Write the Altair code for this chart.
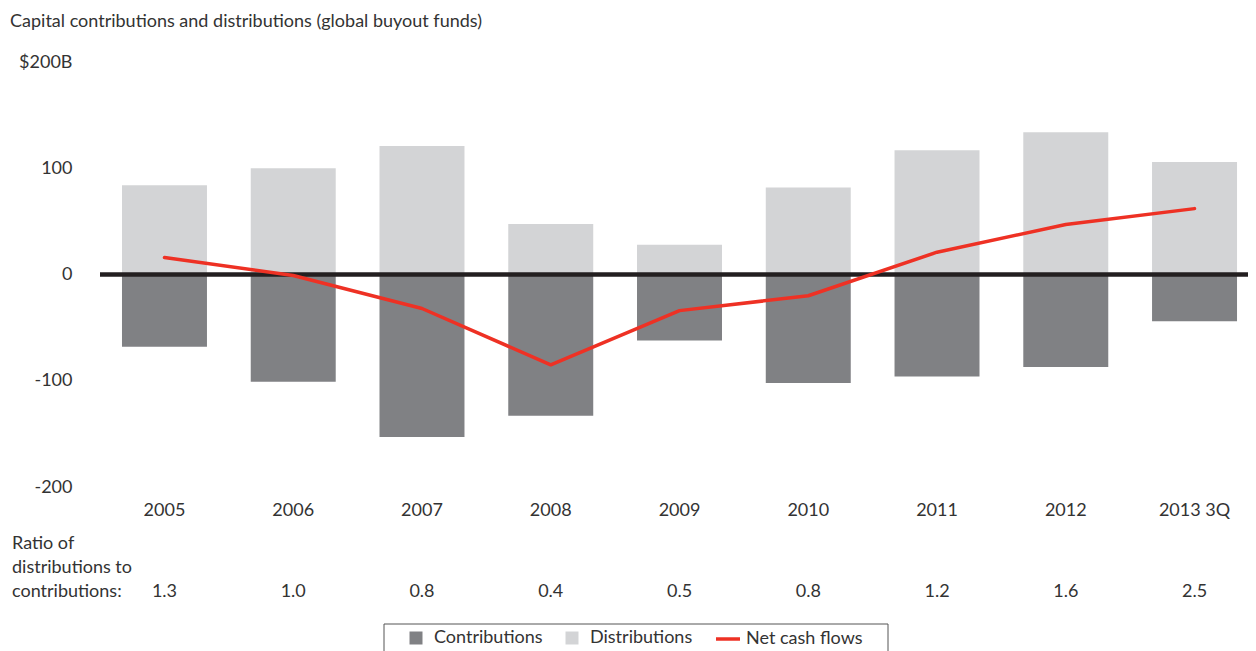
import altair as alt
import pandas as pd

years = ["2005", "2006", "2007", "2008", "2009", "2010", "2011", "2012", "2013 3Q"]
contributions = [-68, -101, -153, -133, -62, -102, -96, -87, -44]
distributions = [84, 100, 121, 47.5, 28, 82, 117, 134, 106]
net_cash = [16, -1, -32, -85, -34, -20, 21, 47, 62]
ratios = ["1.3", "1.0", "0.8", "0.4", "0.5", "0.8", "1.2", "1.6", "2.5"]
ratio_label = ["Ratio of", "distributions to", "contributions:"]
title_text = "Capital contributions and distributions (global buyout funds)"

FONT = "Lato"
FS = 18
FW = 400
TXT = "#333333"
DARK = "#808184"
LIGHT = "#d3d4d6"
RED = "#ee3124"

bars = pd.DataFrame(
    [{"year": y, "type": "Contributions", "value": v} for y, v in zip(years, contributions)]
    + [{"year": y, "type": "Distributions", "value": v} for y, v in zip(years, distributions)]
)
line_df = pd.DataFrame({"year": years, "net": net_cash, "series": ["Net cash flows"] * len(years)})
ratio_df = pd.DataFrame({"year": years, "ratio": ratios})

W, H = 1148, 425

xscale = alt.Scale(domain=years, paddingInner=0.34, paddingOuter=0.128, align=0.667)
yscale = alt.Scale(domain=[-200, 200], nice=False)


def yaxis():
    return alt.Axis(title=None, domain=False, ticks=False, grid=False,
                    values=[-200, -100, 0, 100, 200], labelPadding=28,
                    labelFontSize=FS, labelFont=FONT, labelFontWeight=FW, labelColor=TXT,
                    labelExpr="datum.value == 200 ? '$200B' : '' + datum.value")


def xaxis():
    return alt.Axis(title=None, domain=False, ticks=False, labelAngle=0,
                    labelPadding=14, labelFontSize=FS, labelFont=FONT,
                    labelFontWeight=FW, labelColor=TXT)


bar_layer = alt.Chart(bars).mark_bar().encode(
    x=alt.X("year:N", sort=years, scale=xscale, axis=xaxis()),
    y=alt.Y("value:Q", stack=None, scale=yscale, axis=yaxis()),
    color=alt.Color("type:N", scale=alt.Scale(domain=["Contributions", "Distributions"], range=[DARK, LIGHT]),
                    legend=alt.Legend(title=None, orient="none", legendX=307, legendY=567,
                                      direction="horizontal", symbolType="square", symbolSize=169,
                                      symbolStrokeWidth=0, labelFontSize=FS, labelFont=FONT,
                                      labelFontWeight=FW, labelColor=TXT, labelOffset=9,
                                      columnPadding=20, padding=0)),
)

zero_rule = alt.Chart(pd.DataFrame({"v": [0]})).mark_rule(color="#231f20", strokeWidth=4.5).encode(
    y=alt.Y("v:Q", scale=yscale, axis=yaxis()), x=alt.value(0), x2=alt.value(W)
)

line_layer = alt.Chart(line_df).mark_line(strokeWidth=3.5, strokeCap="round", strokeJoin="round").encode(
    x=alt.X("year:N", sort=years, scale=xscale, axis=xaxis()),
    y=alt.Y("net:Q", scale=yscale, axis=yaxis()),
    stroke=alt.Stroke("series:N", scale=alt.Scale(domain=["Net cash flows"], range=[RED]),
                      legend=alt.Legend(title=None, orient="none", legendX=614, legendY=563,
                                        symbolType="stroke", symbolSize=576, symbolStrokeWidth=3.5,
                                        labelFontSize=FS, labelFont=FONT, labelFontWeight=FW,
                                        labelColor=TXT, labelOffset=4, padding=0)),
)

ratio_layer = alt.Chart(ratio_df).mark_text(fontSize=FS, font=FONT, fontWeight=FW, color=TXT,
                                           baseline="middle").encode(
    x=alt.X("year:N", sort=years, scale=xscale, axis=xaxis()), y=alt.value(530), text="ratio:N"
)

rlab_layers = [
    alt.Chart(pd.DataFrame({"t": [txt]})).mark_text(
        fontSize=FS, font=FONT, fontWeight=FW, color=TXT, baseline="middle", align="left"
    ).encode(x=alt.value(-88), y=alt.value(482 + 24 * i), text="t:N")
    for i, txt in enumerate(ratio_label)
]

title_layer = alt.Chart(pd.DataFrame({"t": [title_text]})).mark_text(
    fontSize=FS, font=FONT, fontWeight=FW, color=TXT, baseline="middle", align="left"
).encode(x=alt.value(-90), y=alt.value(-40), text="t:N")

legend_box = alt.Chart(pd.DataFrame({"a": [0]})).mark_rect(fill=None, stroke="#555555", strokeWidth=1).encode(
    x=alt.value(284), x2=alt.value(788), y=alt.value(562), y2=alt.value(610)
)

chart = alt.layer(bar_layer, zero_rule, line_layer, ratio_layer, *rlab_layers, title_layer, legend_box).properties(
    width=W, height=H,
    padding={"left": 92, "top": 54, "right": 0, "bottom": 200},
    autosize=alt.AutoSizeParams(type="none"),
).configure_view(stroke=None)

chart.save("out.html", embed_options={"renderer": "svg", "actions": False})
